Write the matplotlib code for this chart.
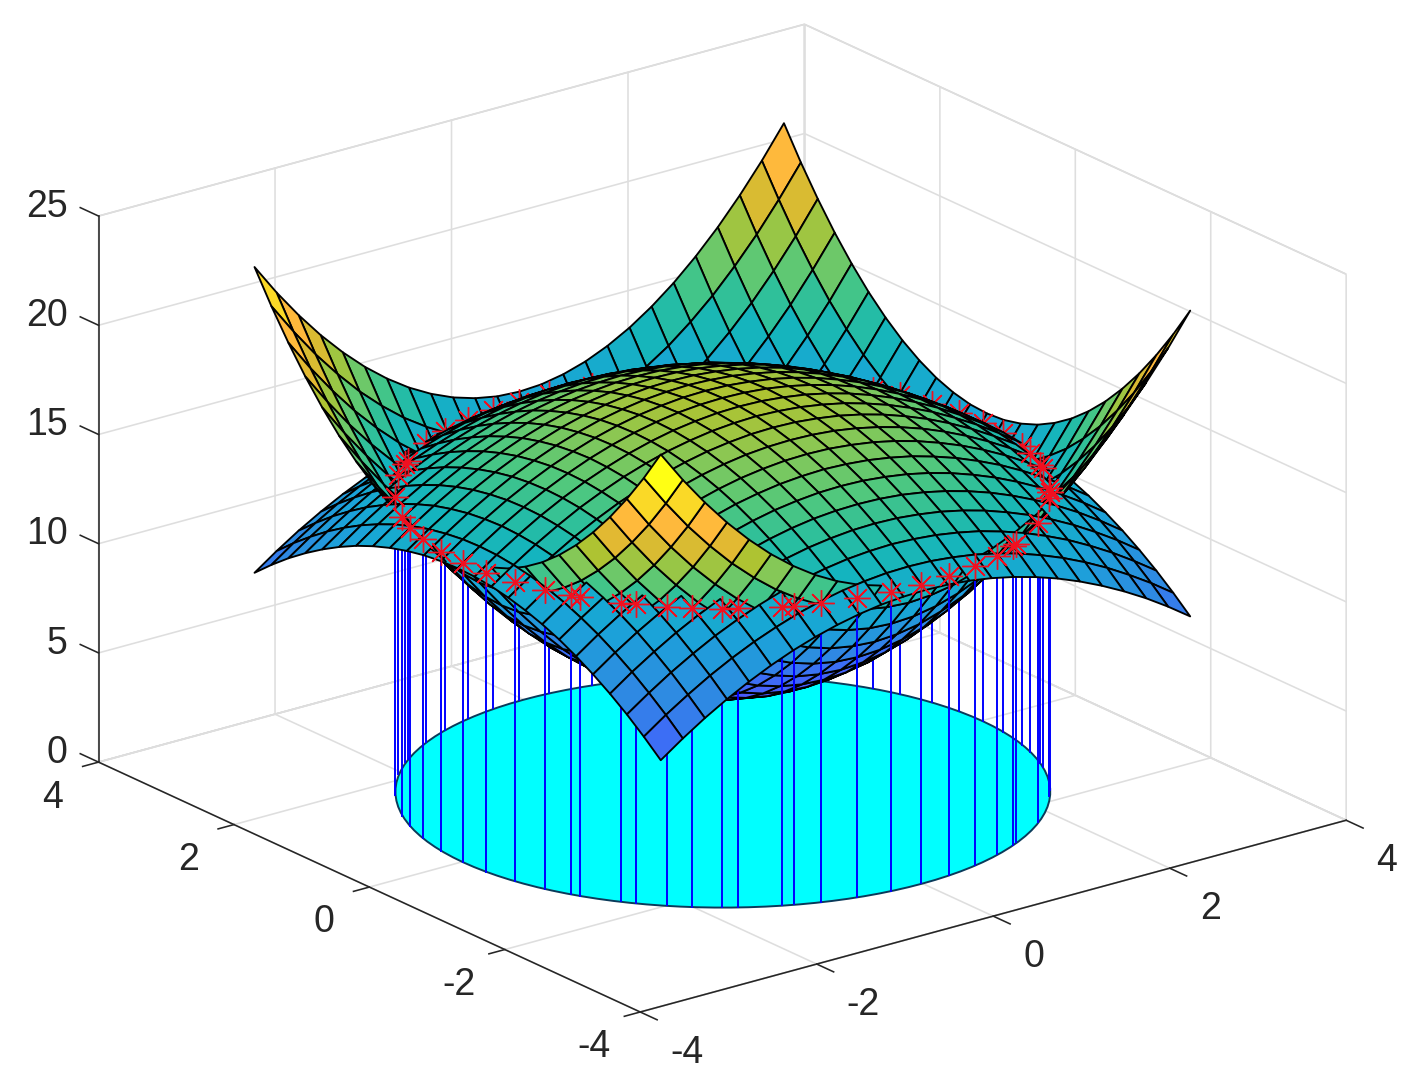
import numpy as np
import matplotlib
matplotlib.use("Agg")
import matplotlib.pyplot as plt
from matplotlib.colors import LinearSegmentedColormap, Normalize
from mpl_toolkits.mplot3d import proj3d
from mpl_toolkits.mplot3d.art3d import Poly3DCollection

grid_xy = [-3, -2.75, -2.5, -2.25, -2, -1.75, -1.5, -1.25, -1, -0.75, -0.5, -0.25, 0,
           0.25, 0.5, 0.75, 1, 1.25, 1.5, 1.75, 2, 2.25, 2.5, 2.75, 3]

# one quadrant of each surface, row/col = |x|, |y| from 0 to 3 in steps of 0.25
bowl_quadrant = [
    [5.00, 5.06, 5.25, 5.56, 6.00, 6.56, 7.25, 8.06, 9.00, 10.06, 11.25, 12.56, 14.00],
    [5.06, 5.13, 5.31, 5.63, 6.06, 6.63, 7.31, 8.13, 9.06, 10.13, 11.31, 12.63, 14.06],
    [5.25, 5.31, 5.50, 5.81, 6.25, 6.81, 7.50, 8.31, 9.25, 10.31, 11.50, 12.81, 14.25],
    [5.56, 5.63, 5.81, 6.13, 6.56, 7.13, 7.81, 8.63, 9.56, 10.63, 11.81, 13.13, 14.56],
    [6.00, 6.06, 6.25, 6.56, 7.00, 7.56, 8.25, 9.06, 10.00, 11.06, 12.25, 13.56, 15.00],
    [6.56, 6.63, 6.81, 7.13, 7.56, 8.13, 8.81, 9.63, 10.56, 11.63, 12.81, 14.13, 15.56],
    [7.25, 7.31, 7.50, 7.81, 8.25, 8.81, 9.50, 10.31, 11.25, 12.31, 13.50, 14.81, 16.25],
    [8.06, 8.13, 8.31, 8.63, 9.06, 9.63, 10.31, 11.13, 12.06, 13.13, 14.31, 15.63, 17.06],
    [9.00, 9.06, 9.25, 9.56, 10.00, 10.56, 11.25, 12.06, 13.00, 14.06, 15.25, 16.56, 18.00],
    [10.06, 10.13, 10.31, 10.63, 11.06, 11.63, 12.31, 13.13, 14.06, 15.13, 16.31, 17.63, 19.06],
    [11.25, 11.31, 11.50, 11.81, 12.25, 12.81, 13.50, 14.31, 15.25, 16.31, 17.50, 18.81, 20.25],
    [12.56, 12.63, 12.81, 13.13, 13.56, 14.13, 14.81, 15.63, 16.56, 17.63, 18.81, 20.13, 21.56],
    [14.00, 14.06, 14.25, 14.56, 15.00, 15.56, 16.25, 17.06, 18.00, 19.06, 20.25, 21.56, 23.00],
]
dome_quadrant = [
    [18.00, 17.97, 17.88, 17.72, 17.50, 17.22, 16.88, 16.47, 16.00, 15.47, 14.88, 14.22, 13.50],
    [17.97, 17.94, 17.84, 17.69, 17.47, 17.19, 16.84, 16.44, 15.97, 15.44, 14.84, 14.19, 13.47],
    [17.88, 17.84, 17.75, 17.59, 17.38, 17.09, 16.75, 16.34, 15.88, 15.34, 14.75, 14.09, 13.38],
    [17.72, 17.69, 17.59, 17.44, 17.22, 16.94, 16.59, 16.19, 15.72, 15.19, 14.59, 13.94, 13.22],
    [17.50, 17.47, 17.38, 17.22, 17.00, 16.72, 16.38, 15.97, 15.50, 14.97, 14.38, 13.72, 13.00],
    [17.22, 17.19, 17.09, 16.94, 16.72, 16.44, 16.09, 15.69, 15.22, 14.69, 14.09, 13.44, 12.72],
    [16.88, 16.84, 16.75, 16.59, 16.38, 16.09, 15.75, 15.34, 14.88, 14.34, 13.75, 13.09, 12.38],
    [16.47, 16.44, 16.34, 16.19, 15.97, 15.69, 15.34, 14.94, 14.47, 13.94, 13.34, 12.69, 11.97],
    [16.00, 15.97, 15.88, 15.72, 15.50, 15.22, 14.88, 14.47, 14.00, 13.47, 12.88, 12.22, 11.50],
    [15.47, 15.44, 15.34, 15.19, 14.97, 14.69, 14.34, 13.94, 13.47, 12.94, 12.34, 11.69, 10.97],
    [14.88, 14.84, 14.75, 14.59, 14.38, 14.09, 13.75, 13.34, 12.88, 12.34, 11.75, 11.09, 10.38],
    [14.22, 14.19, 14.09, 13.94, 13.72, 13.44, 13.09, 12.69, 12.22, 11.69, 11.09, 10.44, 9.72],
    [13.50, 13.47, 13.38, 13.22, 13.00, 12.72, 12.38, 11.97, 11.50, 10.97, 10.38, 9.72, 9.00],
]

ring_radius = 2.944
ring_height = 13.67
# angle of each star on the ring, degrees
star_angles = [-215.5, -205.2, -199.8, -193.8, -186.6, -180, -173.6, -166.9, -160.2, -155.1,
               -153.3, -145.6, -142.7, -137.3, -132.9, -127.5, -124.8, -117, -114.9, -110,
               -103.2, -96.5, -90.1, -83.6, -76.9, -70.4, -64.9, -63.6, -52.7, -40,
               -37, -35, -25.5, -23.5, -17.7, -13.8, -6.6, -0.3, 6.2, 12.7, 19.6, 25.1,
               40, 52, 66, 76, 84.4, 90.8, 96.9, 103.5, 110.5, 117.2, 126.5, 128, 134]

x_ticks = [-4, -2, 0, 2, 4]
y_ticks = [-4, -2, 0, 2, 4]
z_ticks = [0, 5, 10, 15, 20, 25]

# colour seen at each surface height
color_heights = [5, 6.5, 9, 10.5, 12.5, 14, 15, 16, 17, 18, 19, 20.2, 21.5, 23]
color_values = ["#463cf0", "#5055ff", "#3c6ef5", "#2d8ce1", "#19a5d7", "#14b4be", "#28bea0",
                "#50c87d", "#82c85a", "#afc332", "#e1b932", "#ffb93c", "#fad728", "#ffff14"]

FRONT_ANGLE = 37.5   # ring angle + this is the angle seen from the camera
AXIS_COLOR = "#262626"


def mirror(quadrant):
    idx = np.abs(np.arange(-12, 13))
    return np.array(quadrant)[np.ix_(idx, idx)]


def cell_polys(X, Y, Z, colors, mask):
    polys, faces = [], []
    for i, j in zip(*np.nonzero(mask)):
        polys.append([(X[i, j], Y[i, j], Z[i, j]), (X[i, j+1], Y[i, j+1], Z[i, j+1]),
                      (X[i+1, j+1], Y[i+1, j+1], Z[i+1, j+1]), (X[i+1, j], Y[i+1, j], Z[i+1, j])])
        faces.append(colors[i, j])
    return polys, faces


def add_cells(ax, X, Y, Z, colors, mask, zorder):
    polys, faces = cell_polys(X, Y, Z, colors, mask)
    coll = Poly3DCollection(polys, facecolors=faces, edgecolors="black", linewidths=1.35)
    coll.set_zorder(zorder)
    ax.add_collection3d(coll, autolim=False)


def setup_axes(fig):
    w = 1346.7
    left = 30.8
    bottom = -120.7
    ax = fig.add_axes([left/1419, bottom/1089, w/1419, w/1089], projection="3d", computed_zorder=False)
    ax.set_proj_type("ortho")
    ax.set_box_aspect((890, 890, 584))
    ax.view_init(elev=20.73, azim=-127.5)
    ax.set_xlim(-4, 4, view_margin=0)
    ax.set_ylim(-4, 4, view_margin=0)
    ax.set_zlim(0, 25, view_margin=0)
    ax.set_xticks(x_ticks)
    ax.set_yticks(y_ticks)
    ax.set_zticks(z_ticks)
    ax.tick_params(labelbottom=False, labelleft=False, labelright=False, labeltop=False)
    for axis in (ax.xaxis, ax.yaxis, ax.zaxis):
        axis.set_pane_color((1, 1, 1, 1))
        axis.pane.set_edgecolor("#d4d4d4")
        axis.pane.set_linewidth(1.15)
        axis.line.set_color(AXIS_COLOR)
        axis.line.set_linewidth(1.15)
        axis._axinfo["grid"].update(color="#dedede", linewidth=1.15, linestyle="-")
        axis._axinfo["tick"].update(inward_factor=0.0, outward_factor=0.0)
    ax.zaxis.line.set_color((1, 1, 1, 0))
    return ax


def label_at(ax, x, y, z, s, **style):
    # place the label where the 3d point lands, as plain axes text
    px, py, _ = proj3d.proj_transform(x, y, z, ax.get_proj())
    ax.text2D(px, py, s, transform=ax.transData, **style)


def draw_ticks(ax):
    tick_style = dict(color=AXIS_COLOR, lw=1.15, zorder=0.5)
    text_style = dict(color=AXIS_COLOR, fontsize=27, zorder=20, va="center")
    ax.plot([-4, -4], [4, 4], [0, 25], **tick_style)
    for v in x_ticks:
        ax.plot([v, v], [-4, -4.25], [0, 0], **tick_style)
        label_at(ax, v, -4.444, -1.25, str(v), ha="left", **text_style)
    for v in y_ticks:
        ax.plot([-4, -4.18], [v, v], [0, 0], **tick_style)
        label_at(ax, -4.52, v, -1.05, str(v), ha="center", **text_style)
    for v in z_ticks:
        ax.plot([-4, -4], [4, 4.27], [v, v], **tick_style)
        label_at(ax, -4, 4.459, v - 0.23, str(v), ha="right", **text_style)


def main():
    plt.rcParams["font.family"] = ["Liberation Sans", "DejaVu Sans"]
    fig = plt.figure(figsize=(14.19, 10.89), dpi=100, facecolor="white")
    ax = setup_axes(fig)
    draw_ticks(ax)

    X, Y = np.meshgrid(grid_xy, grid_xy)
    bowl = mirror(bowl_quadrant)
    dome = mirror(dome_quadrant)

    low, high = color_heights[0], color_heights[-1]
    stops = [(h - low) / (high - low) for h in color_heights]
    surface_map = LinearSegmentedColormap.from_list("surface", list(zip(stops, color_values)))
    norm = Normalize(low, high)
    bowl_colors = surface_map(norm(bowl))
    dome_colors = surface_map(norm(dome))

    # cells whose middle lies outside the ring, and cells on the camera side
    gap = bowl - dome
    outer = (gap[:-1, :-1] + gap[1:, :-1] + gap[:-1, 1:] + gap[1:, 1:]) > 0
    cx = (X[:-1, :-1] + X[1:, 1:]) / 2
    cy = (Y[:-1, :-1] + Y[1:, 1:]) / 2
    u = np.arctan2(cy, cx) + np.deg2rad(FRONT_ANGLE)
    front = np.sin(u) < 0

    # cyan disk on the floor
    ring = np.deg2rad(np.arange(0, 360, 3))
    disk = [list(zip(ring_radius*np.cos(ring), ring_radius*np.sin(ring), np.zeros(ring.size)))]
    disk_coll = Poly3DCollection(disk, facecolors="#00ffff", edgecolors="#0a3a5a", linewidths=1.4)
    disk_coll.set_zorder(1)
    ax.add_collection3d(disk_coll, autolim=False)

    theta = np.deg2rad(star_angles)
    star_x = ring_radius * np.cos(theta)
    star_y = ring_radius * np.sin(theta)
    seen_angle = np.sin(theta + np.deg2rad(FRONT_ANGLE))
    star_top = seen_angle < 0.35   # these stay visible over the dome edge

    for sx, sy, s in zip(star_x, star_y, seen_angle):
        ax.plot([sx, sx], [sy, sy], [0, ring_height], color="#0000ff", lw=1.4,
                zorder=4 if s < 0 else 2)

    add_cells(ax, X, Y, bowl, bowl_colors, ~outer, 3)
    add_cells(ax, X, Y, dome, dome_colors, outer & ~front, 5)
    add_cells(ax, X, Y, bowl, bowl_colors, outer & ~front, 6)
    star_style = dict(ls="none", marker=(8, 2, 0), ms=19, mew=1.0, color="#f01020")
    ax.plot(star_x[~star_top], star_y[~star_top], np.full((~star_top).sum(), ring_height),
            zorder=7, **star_style)
    add_cells(ax, X, Y, dome, dome_colors, ~outer, 8)
    add_cells(ax, X, Y, bowl, bowl_colors, outer & front, 9)
    add_cells(ax, X, Y, dome, dome_colors, outer & front, 10)
    ax.plot(star_x[star_top], star_y[star_top], np.full(star_top.sum(), ring_height),
            zorder=11, **star_style)

    fig.savefig("out.png", dpi=100)


if __name__ == '__main__':
    main()
